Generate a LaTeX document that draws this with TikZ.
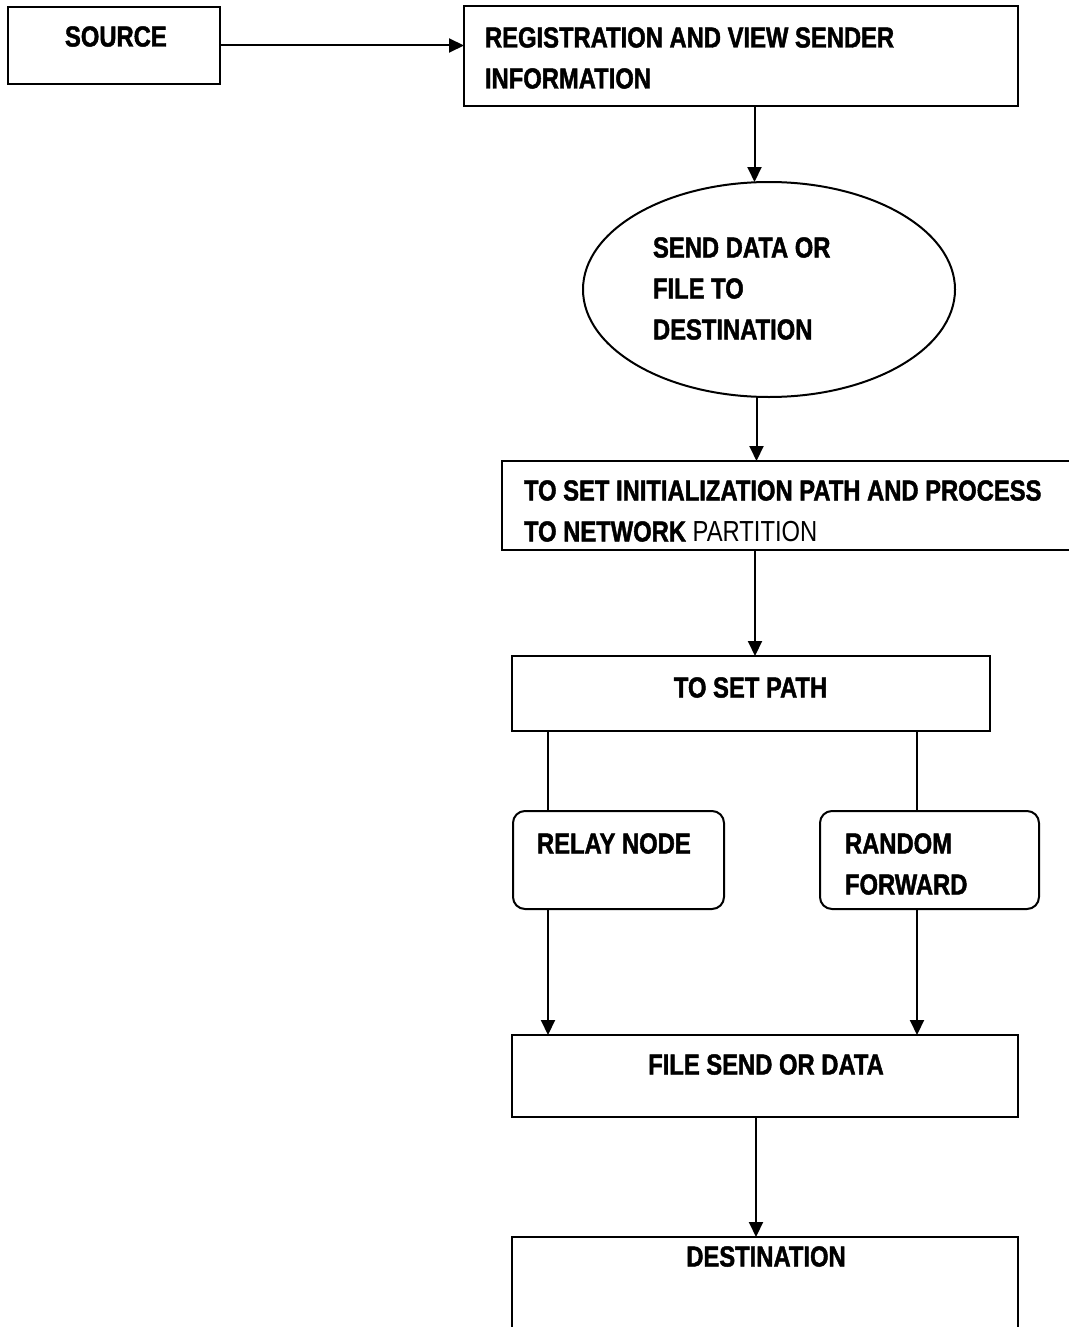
\documentclass[tikz,border=0pt]{standalone}
\usepackage{fontspec}
\setmainfont{Liberation Sans}[FakeStretch=0.82, BoldFeatures={FakeBold=1.5}]
\usetikzlibrary{arrows.meta,shapes.geometric}
\begin{document}
\begin{tikzpicture}[x=1pt,y=-1pt,
  box/.style={draw, line width=2pt, rectangle, outer sep=0pt, inner sep=0pt},
  rbox/.style={box, rounded corners=12pt},
  oval/.style={draw, line width=2pt, ellipse, outer sep=0pt, inner sep=0pt},
  txt/.style={inner sep=0pt, outer sep=0pt, align=left, font=\fontsize{29}{41}\selectfont},
  link/.style={line width=2pt},
  arr/.style={link, -{Triangle[length=15pt,width=14pt]}}]
\useasboundingbox (0,0) rectangle (1068,1327);

% boxes
\node[box, minimum width=212pt, minimum height=77pt] (src) at (114,45.5) {};
\node[box, minimum width=554pt, minimum height=100pt] (reg) at (741,56) {};
\node[oval, minimum width=372pt, minimum height=215pt] (send) at (769,289.5) {};
\node[box, minimum width=576pt, minimum height=89pt] (init) at (790,505.5) {};
\node[box, minimum width=478pt, minimum height=75pt] (path) at (751,693.5) {};
\node[rbox, minimum width=211pt, minimum height=98pt] (relay) at (618.5,860) {};
\node[rbox, minimum width=219pt, minimum height=98pt] (rand) at (929.5,860) {};
\node[box, minimum width=506pt, minimum height=82pt] (file) at (765,1076) {};
\node[box, minimum width=506pt, minimum height=110pt] (dest) at (765,1292) {};

% labels (base anchor sits on the last line of a multi-line label)
\node[txt, anchor=base west] (srcT) at (65,46.5) {\bfseries SOURCE};
\node[txt, anchor=base west] (regT) at (485,88.5) {\bfseries REGISTRATION AND VIEW SENDER\\\bfseries INFORMATION};
\node[txt, anchor=base west] (sendT) at (653,339.5) {\bfseries SEND DATA OR\\\bfseries FILE TO\\\bfseries DESTINATION};
\node[txt, anchor=base west] (initT) at (524,541.5) {\bfseries TO SET INITIALIZATION PATH AND PROCESS\\\textbf{TO NETWORK} PARTITION};
\node[txt, anchor=base] (pathT) at (750.5,697.5) {\bfseries TO SET PATH};
\node[txt, anchor=base west] (relayT) at (537,853.5) {\bfseries RELAY NODE};
\node[txt, anchor=base west] (randT) at (845,894.5) {\bfseries RANDOM\\\bfseries FORWARD};
\node[txt, anchor=base] (fileT) at (766,1074.5) {\bfseries FILE SEND OR DATA};
\node[txt, anchor=base] (destT) at (766,1266.5) {\bfseries DESTINATION};

% connectors
\draw[arr] (src.east) -- (reg.west |- src.east);
\draw[arr] (reg.south -| 754.5,0) -- (send.north -| 754.5,0);
\draw[arr] (send.south -| 756.5,0) -- (init.north -| 756.5,0);
\draw[arr] (init.south -| 755,0) -- (path.north -| 755,0);
\draw[link] (path.south -| 548,0) -- (relay.north -| 548,0);
\draw[link] (path.south -| 917,0) -- (rand.north -| 917,0);
\draw[arr] (relay.south -| 548,0) -- (file.north -| 548,0);
\draw[arr] (rand.south -| 917,0) -- (file.north -| 917,0);
\draw[arr] (file.south -| 756,0) -- (dest.north -| 756,0);
\end{tikzpicture}
\end{document}
